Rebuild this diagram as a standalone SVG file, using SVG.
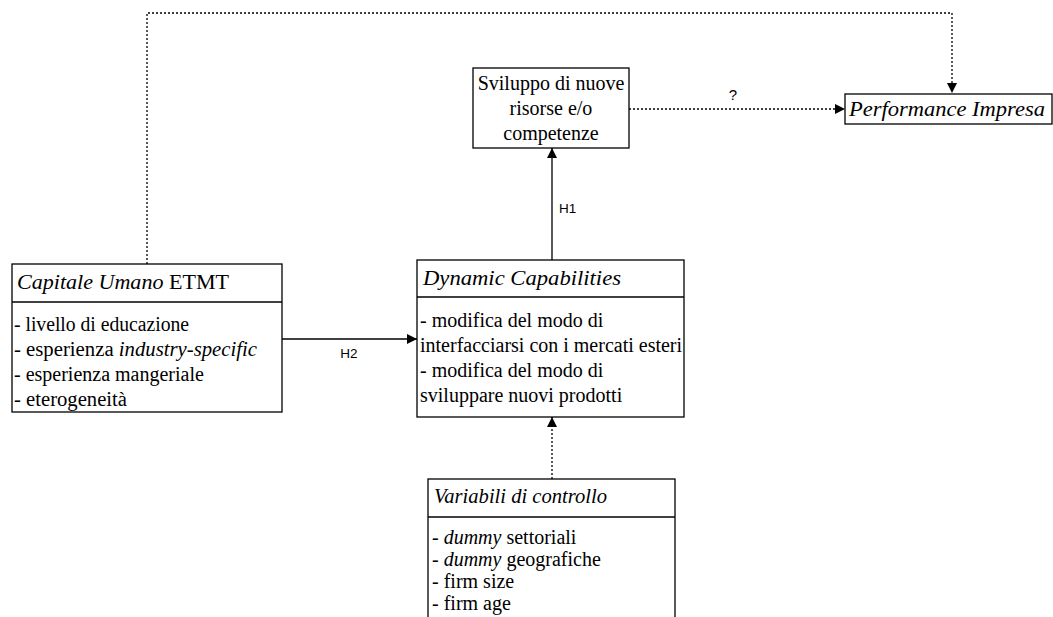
<svg xmlns="http://www.w3.org/2000/svg" width="1053" height="617" viewBox="0 0 1053 617">
  <defs>
    <marker id="arrow" viewBox="0 0 10 10" refX="10" refY="5" markerWidth="10" markerHeight="10" markerUnits="userSpaceOnUse" orient="auto">
      <path d="M0,0 L10,5 L0,10 z" fill="#000"/>
    </marker>
    <style>
      .box { fill: #fff; stroke: #000; stroke-width: 1.3; }
      .sep { stroke: #000; stroke-width: 1.3; }
      .t { font-family: "Liberation Serif", "Times New Roman", serif; font-size: 20px; fill: #000; }
      .i { font-style: italic; }
      .lab { font-family: "Liberation Sans", Arial, sans-serif; font-size: 13.5px; fill: #000; }
      .q { font-size: 15px; }
      .solid { fill: none; stroke: #000; stroke-width: 1.3; }
      .dot { fill: none; stroke: #000; stroke-width: 1.3; stroke-dasharray: 2 2; }
    </style>
  </defs>
  <rect width="1053" height="617" fill="#fff"/>

  <!-- connectors -->
  <g id="connectors">
    <polyline class="dot" points="147,264 147,13 952,13 952,93" marker-end="url(#arrow)"/>
    <line class="dot" x1="629" y1="109" x2="845" y2="109" marker-end="url(#arrow)"/>
    <text class="lab q" x="733" y="100" text-anchor="middle">?</text>
    <line class="solid" x1="552" y1="260" x2="552" y2="148" marker-end="url(#arrow)"/>
    <text class="lab" x="559" y="213">H1</text>
    <line class="solid" x1="282" y1="339" x2="417" y2="339" marker-end="url(#arrow)"/>
    <text class="lab" x="349" y="358" text-anchor="middle">H2</text>
    <line class="dot" x1="552" y1="479" x2="552" y2="417" marker-end="url(#arrow)"/>
  </g>

  <!-- Sviluppo di nuove risorse -->
  <g id="sviluppo">
    <rect class="box" x="473" y="68" width="156" height="80"/>
    <text class="t" x="551" y="90" text-anchor="middle">Sviluppo di nuove</text>
    <text class="t" x="551" y="115" text-anchor="middle">risorse e/o</text>
    <text class="t" x="551" y="140" text-anchor="middle">competenze</text>
  </g>

  <!-- Performance Impresa -->
  <g id="performance">
    <rect class="box" x="845" y="94" width="207" height="30"/>
    <text class="t i" x="849" y="116" textLength="196" lengthAdjust="spacingAndGlyphs">Performance Impresa</text>
  </g>

  <!-- Capitale Umano ETMT -->
  <g id="capitale">
    <rect class="box" x="12" y="264" width="270" height="148"/>
    <line class="sep" x1="12" y1="302" x2="282" y2="302"/>
    <text class="t" x="17" y="289" textLength="212" lengthAdjust="spacingAndGlyphs"><tspan class="i">Capitale Umano</tspan> ETMT</text>
    <text class="t" x="14" y="331" textLength="175" lengthAdjust="spacingAndGlyphs">- livello di educazione</text>
    <text class="t" x="14" y="356" textLength="243" lengthAdjust="spacingAndGlyphs">- esperienza <tspan class="i">industry-specific</tspan></text>
    <text class="t" x="14" y="381">- esperienza mangeriale</text>
    <text class="t" x="14" y="406" textLength="113" lengthAdjust="spacingAndGlyphs">- eterogeneità</text>
  </g>

  <!-- Dynamic Capabilities -->
  <g id="dynamic">
    <rect class="box" x="417" y="260" width="267" height="157"/>
    <line class="sep" x1="417" y1="297" x2="684" y2="297"/>
    <text class="t i" x="423" y="285" textLength="198" lengthAdjust="spacingAndGlyphs">Dynamic Capabilities</text>
    <text class="t" x="420" y="327">-  modifica del modo di</text>
    <text class="t" x="420" y="352">interfacciarsi con i mercati esteri</text>
    <text class="t" x="420" y="377">-  modifica del modo di</text>
    <text class="t" x="420" y="402">sviluppare nuovi prodotti</text>
  </g>

  <!-- Variabili di controllo -->
  <g id="variabili">
    <rect class="box" x="428" y="479" width="247" height="170"/>
    <line class="sep" x1="428" y1="517" x2="675" y2="517"/>
    <text class="t i" x="434" y="503" textLength="173" lengthAdjust="spacingAndGlyphs">Variabili di controllo</text>
    <text class="t" x="432" y="544">- <tspan class="i">dummy</tspan> settoriali</text>
    <text class="t" x="432" y="566">- <tspan class="i">dummy</tspan> geografiche</text>
    <text class="t" x="432" y="588">- firm size</text>
    <text class="t" x="432" y="610">- firm age</text>
  </g>
</svg>
